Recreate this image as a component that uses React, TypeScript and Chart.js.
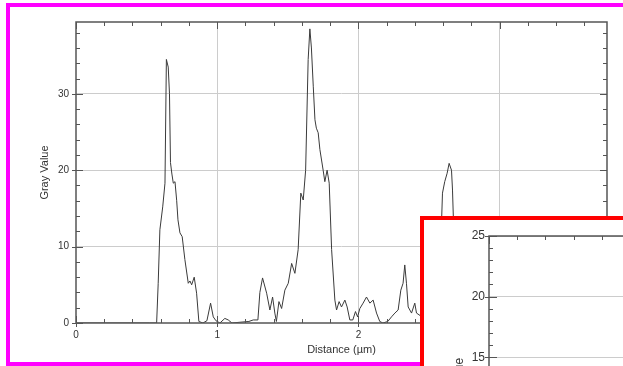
import React, { useEffect, useRef } from 'react';
import { Chart, registerables } from 'chart.js';

Chart.register(...registerables);

// ---- data ----
const distanceUm = [
  0, 0.52, 0.571, 0.582, 0.594, 0.614, 0.630, 0.640, 0.653, 0.662,
  0.669, 0.679, 0.689, 0.701, 0.713, 0.722, 0.736, 0.752, 0.771, 0.795,
  0.807, 0.819, 0.837, 0.854, 0.870, 0.899, 0.927, 0.953, 0.972, 0.991,
  1.019, 1.054, 1.078, 1.104, 1.161, 1.224, 1.255, 1.288, 1.302, 1.321,
  1.350, 1.373, 1.392, 1.408, 1.419, 1.437, 1.456, 1.479, 1.503, 1.527,
  1.550, 1.573, 1.592, 1.609, 1.626, 1.644, 1.656, 1.667, 1.680, 1.692,
  1.702, 1.715, 1.727, 1.750, 1.762, 1.778, 1.793, 1.810, 1.833, 1.845,
  1.863, 1.880, 1.904, 1.920, 1.939, 1.960, 1.979, 1.994, 2.010, 2.033,
  2.057, 2.081, 2.104, 2.128, 2.151, 2.173, 2.208, 2.234, 2.258, 2.281,
  2.300, 2.316, 2.328, 2.340, 2.352, 2.376, 2.399, 2.411, 2.435, 2.470,
  2.505, 2.541, 2.576, 2.595, 2.611, 2.628, 2.642, 2.659, 2.666, 2.675,
  2.696, 2.732, 2.788, 2.93, 3.142, 3.425, 3.708,
];
const grayValue = [
  0, 0, 0, 5.2, 12.2, 15.2, 18.3, 34.5, 33.5, 30,
  21, 19.5, 18.3, 18.5, 16, 13.5, 11.8, 11.3, 8.3, 5.2,
  5.5, 5, 6, 3.9, 0.2, 0, 0.3, 2.6, 0.8, 0.3,
  0, 0.6, 0.4, 0, 0.1, 0.2, 0.4, 0.4, 4, 5.9,
  3.9, 1.7, 3.4, 1.3, 0.2, 2.8, 1.9, 4.3, 5.2, 7.8,
  6.5, 9.6, 17, 16.1, 20, 34.5, 38.5, 36, 31, 26.6,
  25.5, 24.9, 22.7, 20, 18.5, 20, 18.3, 9.6, 3, 1.7,
  2.8, 2.1, 3, 2.1, 0.4, 0.4, 1.5, 0.8, 1.9, 2.6,
  3.4, 2.6, 3, 1.3, 0.2, 0, 0.2, 0.8, 1.3, 1.7,
  4.3, 5.2, 7.6, 5.2, 2.1, 1.3, 2.6, 1.3, 1, 2,
  1, 3, 6, 17, 18.5, 19.6, 20.9, 20, 17.4, 12,
  6, 2, 1, 0.5, 1, 0.5, 0,
];
const xTicks = [0, 1, 2, 3];
const yTicks = [0, 10, 20, 30];
const xMax = 3.76;
const yMax = 39.4;

const insetXTicks = [0, 1, 2, 3, 4];
const insetYTicks = [0, 5, 10, 15, 20, 25];
const insetXMax = 4;
const insetYMax = 25;

const xTitle = 'Distance (µm)';
const yTitle = 'Gray Value';

const FONT = '"Liberation Sans", Arial, sans-serif';

function frameTicks(cfg: any) {
  return {
    id: 'frameTicks',
    afterDraw(chart: any) {
      const { ctx, chartArea: a } = chart;
      const xs = chart.scales.x;
      const ys = chart.scales.y;
      ctx.save();
      ctx.strokeStyle = cfg.color;
      ctx.lineWidth = 1;
      ctx.beginPath();
      const nx = Math.floor((xs.max - xs.min) / cfg.xMinor + 1e-6);
      for (let k = 0; k <= nx; k++) {
        const v = xs.min + k * cfg.xMinor;
        const px = Math.round(xs.getPixelForValue(v)) + 0.5;
        const major = k % cfg.xRatio === 0;
        const len = major ? cfg.majorIn : cfg.minorIn;
        ctx.moveTo(px, a.bottom + (major ? cfg.majorOut : 0));
        ctx.lineTo(px, a.bottom - len);
        ctx.moveTo(px, a.top);
        ctx.lineTo(px, a.top + len);
      }
      const ny = Math.floor((ys.max - ys.min) / cfg.yMinor + 1e-6);
      for (let k = 0; k <= ny; k++) {
        const v = ys.min + k * cfg.yMinor;
        const py = Math.round(ys.getPixelForValue(v)) + 0.5;
        const major = k % cfg.yRatio === 0;
        const len = major ? cfg.majorIn : cfg.minorIn;
        ctx.moveTo(a.left - (major ? cfg.majorOut : 0), py);
        ctx.lineTo(a.left + len, py);
        ctx.moveTo(a.right, py);
        ctx.lineTo(a.right - len, py);
      }
      ctx.stroke();
      ctx.lineWidth = cfg.frameWidth;
      ctx.strokeRect(a.left, a.top, a.right - a.left, a.bottom - a.top);
      ctx.restore();
    },
  };
}

function axisOptions(p: any) {
  return {
    type: 'linear',
    min: 0,
    max: p.max,
    afterBuildTicks: (s: any) => {
      s.ticks = p.ticks.map((v: number) => ({ value: v }));
    },
    afterFit: (s: any) => {
      if (p.width !== undefined) s.width = p.width;
      if (p.height !== undefined) s.height = p.height;
    },
    border: { display: false },
    grid: {
      color: (c: any) => (c.tick && c.tick.value === 0 ? 'rgba(0,0,0,0)' : p.gridColor),
      lineWidth: 1,
      drawTicks: false,
    },
    ticks: {
      color: '#333',
      font: { family: FONT, size: p.tickSize },
      padding: p.tickPad,
      autoSkip: false,
      maxRotation: 0,
      display: p.showTicks,
    },
    title: {
      display: p.title !== undefined,
      text: p.title,
      color: '#333',
      font: { family: FONT, size: p.titleSize },
      padding: p.titlePad,
    },
  };
}

export default function App() {
  const mainRef = useRef<HTMLCanvasElement>(null);
  const insetRef = useRef<HTMLCanvasElement>(null);

  useEffect(() => {
    const points = distanceUm.map((d, i) => ({ x: d, y: grayValue[i] }));
    const main = new Chart(mainRef.current as HTMLCanvasElement, {
      type: 'line',
      data: {
        datasets: [
          {
            data: points,
            borderColor: '#3a3a3a',
            borderWidth: 1,
            pointRadius: 0,
            tension: 0,
            fill: false,
          },
        ],
      },
      options: {
        animation: false,
        responsive: false,
        maintainAspectRatio: false,
        layout: { padding: { left: 0, top: 22, right: 16, bottom: 0 } },
        plugins: { legend: { display: false }, tooltip: { enabled: false } },
        scales: {
          x: axisOptions({
            max: xMax, ticks: xTicks, height: 43, gridColor: '#cccccc',
            tickSize: 10, tickPad: 6, showTicks: true,
            title: xTitle, titleSize: 11, titlePad: { top: 0, bottom: 9 },
          }),
          y: axisOptions({
            max: yMax, ticks: yTicks, width: 76, gridColor: '#cccccc',
            tickSize: 10, tickPad: 7, showTicks: true,
            title: yTitle, titleSize: 11, titlePad: { top: 38, bottom: 0 },
          }),
        },
      } as any,
      plugins: [
        frameTicks({
          color: '#555', frameWidth: 1.5, xMinor: 0.2, xRatio: 5, yMinor: 2, yRatio: 5,
          majorIn: 7, majorOut: 4, minorIn: 4,
        }),
      ],
    });

    const inset = new Chart(insetRef.current as HTMLCanvasElement, {
      type: 'line',
      data: {
        datasets: [
          {
            data: [] as any[],
            borderColor: '#3a3a3a',
            borderWidth: 1,
            pointRadius: 0,
          },
        ],
      },
      options: {
        animation: false,
        responsive: false,
        maintainAspectRatio: false,
        layout: { padding: { left: 0, top: 16, right: 21, bottom: 0 } },
        plugins: { legend: { display: false }, tooltip: { enabled: false } },
        scales: {
          x: axisOptions({
            max: insetXMax, ticks: insetXTicks, height: 45, gridColor: '#cccccc',
            tickSize: 12, tickPad: 6, showTicks: true,
            title: xTitle, titleSize: 12, titlePad: { top: 0, bottom: 6 },
          }),
          y: axisOptions({
            max: insetYMax, ticks: insetYTicks, width: 65, gridColor: '#cccccc',
            tickSize: 12, tickPad: 4, showTicks: true,
            title: yTitle, titleSize: 12, titlePad: { top: 28, bottom: 0 },
          }),
        },
      } as any,
      plugins: [
        frameTicks({
          color: '#555', frameWidth: 1.5, xMinor: 0.2, xRatio: 5, yMinor: 1, yRatio: 5,
          majorIn: 8, majorOut: 4, minorIn: 4,
        }),
      ],
    });

    return () => {
      main.destroy();
      inset.destroy();
    };
  }, []);

  return (
    <div
      style={{
        position: 'fixed', left: 0, top: 0, width: 623, height: 366,
        overflow: 'hidden', background: '#fff',
      }}
    >
      <canvas
        ref={mainRef}
        width={623}
        height={366}
        style={{ position: 'absolute', left: 0, top: 0, width: 623, height: 366, display: 'block' }}
      />
      <div
        style={{
          position: 'absolute', left: 6, top: 3, width: 700, height: 363,
          border: '4px solid #ff00ff', boxSizing: 'border-box', pointerEvents: 'none',
        }}
      />
      <div
        style={{
          position: 'absolute', left: 420, top: 216, width: 700, height: 500,
          border: '4px solid #ff0000', boxSizing: 'border-box', background: '#fff',
          overflow: 'hidden',
        }}
      >
        <canvas
          ref={insetRef}
          width={650}
          height={364}
          style={{ position: 'absolute', left: 0, top: 0, width: 650, height: 364, display: 'block' }}
        />
      </div>
    </div>
  );
}
